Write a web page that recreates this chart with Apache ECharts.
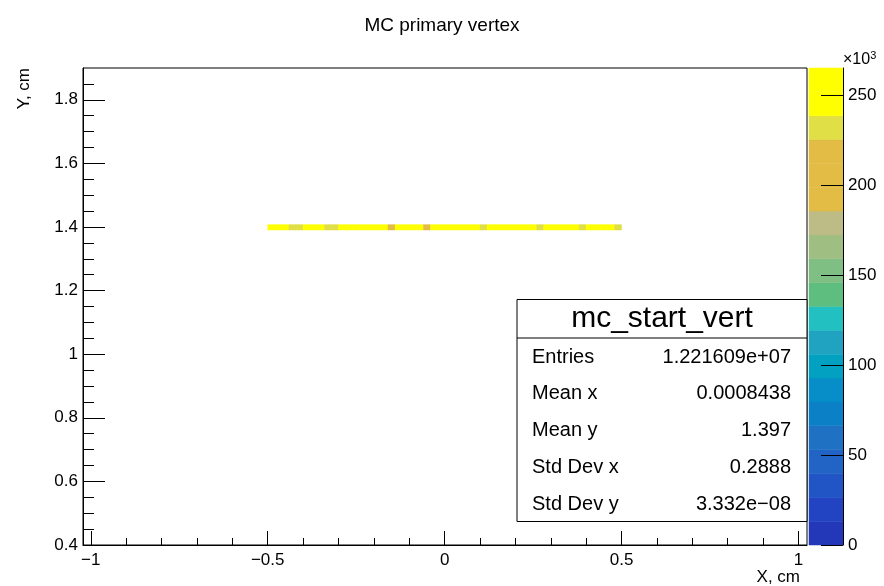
<!DOCTYPE html>
<html>
<head>
<meta charset="utf-8">
<script src="https://cdn.jsdelivr.net/npm/echarts@6/dist/echarts.min.js"></script>
<style>
  html, body { margin: 0; padding: 0; background: #ffffff; }
  #chart { width: 884px; height: 586px; }
</style>
</head>
<body>
<div id="chart"></div>
<script>
// ---- histogram binning (cm) ----
const xRange = [-1.022, 1.024];
const yRange = [0.4, 1.9];
const xBinWidth = 0.02;
const yBinHeight = 0.0167;
const yBinCenter = 1.399;

// x bin centres of the filled row
const xBinCenters = [
  -0.49, -0.47, -0.45, -0.43, -0.41, -0.39, -0.37, -0.35, -0.33, -0.31,
  -0.29, -0.27, -0.25, -0.23, -0.21, -0.19, -0.17, -0.15, -0.13, -0.11,
  -0.09, -0.07, -0.05, -0.03, -0.01,  0.01,  0.03,  0.05,  0.07,  0.09,
   0.11,  0.13,  0.15,  0.17,  0.19,  0.21,  0.23,  0.25,  0.27,  0.29,
   0.31,  0.33,  0.35,  0.37,  0.39,  0.41,  0.43,  0.45,  0.47,  0.49
];

// entries per bin, in thousands
const binCounts = [
  248.9, 250.3, 247.6, 232.1, 230.8, 249.5, 251.2, 246.7, 229.9, 233.4,
  250.8, 248.1, 252.6, 249.0, 247.3, 251.9, 248.5, 211.6, 250.2, 253.1,
  249.7, 247.9, 208.4, 251.4, 250.0, 248.8, 252.3, 249.6, 265.2, 250.7,
  231.5, 248.2, 251.6, 249.3, 247.5, 250.9, 252.0, 248.7, 233.0, 250.4,
  249.2, 251.3, 247.8, 250.6, 230.2, 249.9, 252.4, 248.3, 250.1, 234.6
];

// axis ticks
const xMajorTicks = [-1, -0.5, 0, 0.5, 1];
const xMinorTicks = [-0.9, -0.8, -0.7, -0.6, -0.4, -0.3, -0.2, -0.1, 0.1, 0.2, 0.3, 0.4, 0.6, 0.7, 0.8, 0.9];
const yMajorTicks = [0.4, 0.6, 0.8, 1.0, 1.2, 1.4, 1.6, 1.8];
const yMinorTicks = [0.45, 0.5, 0.55, 0.65, 0.7, 0.75, 0.85, 0.9, 0.95, 1.05, 1.1, 1.15, 1.25, 1.3, 1.35,
                     1.45, 1.5, 1.55, 1.65, 1.7, 1.75, 1.85];
const zTicks = [0, 50, 100, 150, 200, 250];

// statistics box
const statsTitle = 'mc_start_vert';
const statsLabels = ['Entries', 'Mean x', 'Mean y', 'Std Dev x', 'Std Dev y'];
const statsValues = ['1.221609e+07', '0.0008438', '1.397', '0.2888', '3.332e\u221208'];

// 20 colour contours, lowest to highest
const contourColors = [
  '#2337b9', '#2244c3', '#2155c6', '#2164c5', '#1f72c3', '#0b80c6', '#078dc7', '#02a0c1', '#20a2c1', '#22c0c0',
  '#5ebe80', '#7fbf83', '#9ebf81', '#bdbb86', '#e2bc45', '#e2bc45', '#e2bc45', '#e0df45', '#ffff00', '#ffff00'
];

const FONT = 'Liberation Sans';
const nContours = contourColors.length;
const zMax = Math.max(...binCounts);
const zStep = zMax / nContours;

const cells = xBinCenters.map((x, i) => [x, yBinCenter, binCounts[i]]);
const bands = contourColors.map((c, i) => [i * zStep, (i + 1) * zStep, i]);

const pieces = contourColors.map((c, i) => ({
  gte: i * zStep,
  lt: i === nContours - 1 ? Infinity : (i + 1) * zStep,
  color: c
}));

const fmt = v => String(+v.toFixed(2)).replace('-', '\u2212');

const chart = echarts.init(document.getElementById('chart'), null, { renderer: 'canvas' });

const tickLine = { color: '#000', width: 1 };

chart.setOption({
  animation: false,
  backgroundColor: '#ffffff',
  textStyle: { fontFamily: FONT },
  title: {
    text: 'MC primary vertex',
    left: 'center',
    top: 11,
    textStyle: { fontFamily: FONT, fontSize: 19, fontWeight: 'normal', color: '#000' }
  },
  grid: [
    { left: 83, top: 68, width: 724, height: 477, show: true, borderColor: '#000', borderWidth: 1, backgroundColor: '#fff' },
    { left: 809, top: 68, width: 34, height: 477, show: false }
  ],
  xAxis: [
    {
      gridIndex: 0, type: 'value', min: xRange[0], max: xRange[1],
      axisLine: { show: true, onZero: false, lineStyle: tickLine },
      splitLine: { show: false },
      axisTick: { show: true, inside: true, length: 14, lineStyle: tickLine, customValues: xMajorTicks },
      axisLabel: { show: true, customValues: xMajorTicks, formatter: fmt, margin: 7,
                   fontFamily: FONT, fontSize: 17, color: '#000' },
      name: 'X, cm', nameLocation: 'end', nameGap: 0,
      nameTextStyle: { fontFamily: FONT, fontSize: 17, color: '#000', align: 'right', verticalAlign: 'top', padding: [24, 7, 0, 0] }
    },
    {
      gridIndex: 0, type: 'value', min: xRange[0], max: xRange[1], position: 'bottom',
      axisLine: { show: false, onZero: false }, splitLine: { show: false }, axisLabel: { show: false },
      axisTick: { show: true, inside: true, length: 7, lineStyle: tickLine, customValues: xMinorTicks }
    },
    {
      gridIndex: 1, type: 'value', min: 0, max: 1, show: false,
      axisLine: { onZero: false }
    }
  ],
  yAxis: [
    {
      gridIndex: 0, type: 'value', min: yRange[0], max: yRange[1],
      axisLine: { show: true, onZero: false, lineStyle: tickLine },
      splitLine: { show: false },
      axisTick: { show: true, inside: true, length: 22, lineStyle: tickLine, customValues: yMajorTicks },
      axisLabel: { show: true, customValues: yMajorTicks, formatter: fmt, margin: 5,
                   fontFamily: FONT, fontSize: 17, color: '#000' }
    },
    {
      gridIndex: 0, type: 'value', min: yRange[0], max: yRange[1], position: 'left',
      axisLine: { show: false, onZero: false }, splitLine: { show: false }, axisLabel: { show: false },
      axisTick: { show: true, inside: true, length: 11, lineStyle: tickLine, customValues: yMinorTicks }
    },
    {
      gridIndex: 1, type: 'value', min: 0, max: zMax, position: 'right', z: 10,
      axisLine: { show: true, onZero: false, lineStyle: tickLine },
      splitLine: { show: false },
      axisTick: { show: true, inside: true, length: 22, lineStyle: tickLine, customValues: zTicks },
      axisLabel: { show: true, customValues: zTicks, margin: 5, fontFamily: FONT, fontSize: 17, color: '#000' }
    }
  ],
  visualMap: {
    type: 'piecewise', show: false, seriesIndex: 0, dimension: 2, pieces: pieces
  },
  series: [
    {
      type: 'custom',
      xAxisIndex: 0, yAxisIndex: 0,
      dimensions: ['x', 'y', 'z'],
      encode: { x: 0, y: 1 },
      data: cells,
      renderItem: (params, api) => {
        const x = api.value(0), y = api.value(1);
        const p0 = api.coord([x - xBinWidth / 2, y + yBinHeight / 2]);
        const p1 = api.coord([x + xBinWidth / 2, y - yBinHeight / 2]);
        const col = api.visual('color');
        return {
          type: 'rect',
          shape: { x: p0[0], y: p0[1], width: p1[0] - p0[0], height: p1[1] - p0[1] },
          style: { fill: col, stroke: col, lineWidth: 0.5 }
        };
      }
    },
    {
      type: 'custom',
      xAxisIndex: 2, yAxisIndex: 2,
      dimensions: ['lo', 'hi', 'k'],
      encode: { y: [0, 1] },
      data: bands,
      silent: true,
      z: 1,
      renderItem: (params, api) => {
        const lo = api.value(0), hi = api.value(1), k = api.value(2);
        const p0 = api.coord([0, hi]);
        const p1 = api.coord([1, lo]);
        return {
          type: 'rect',
          shape: { x: p0[0], y: p0[1], width: p1[0] - p0[0], height: p1[1] - p0[1] },
          style: { fill: contourColors[k], stroke: contourColors[k], lineWidth: 0.5 }
        };
      }
    }
  ],
  graphic: [
    {
      type: 'text', left: 843, top: 50, z: 10,
      style: {
        text: '\u00d710{s|3}', fontFamily: FONT, fontSize: 16, fill: '#000',
        rich: { s: { fontFamily: FONT, fontSize: 11, verticalAlign: 'top', padding: [0, 0, 8, 0] } }
      }
    },
    {
      type: 'text', x: 24, y: 68, rotation: Math.PI / 2, z: 10,
      style: { text: 'Y, cm', fontFamily: FONT, fontSize: 17, fill: '#000', align: 'right', verticalAlign: 'middle' }
    },
    {
      type: 'group', z: 20,
      children: [
        { type: 'rect', shape: { x: 517, y: 299.5, width: 290, height: 222 },
          style: { fill: '#fff', stroke: '#000', lineWidth: 1 } },
        { type: 'line', shape: { x1: 517, y1: 338, x2: 807, y2: 338 }, style: { stroke: '#000', lineWidth: 1 } },
        { type: 'text', x: 662, y: 319,
          style: { text: statsTitle, fontFamily: FONT, fontSize: 30, fill: '#000', align: 'center', verticalAlign: 'middle' } }
      ].concat(statsLabels.map((t, i) => ({
        type: 'text', x: 532, y: 357 + i * 36.9,
        style: { text: t, fontFamily: FONT, fontSize: 20, fill: '#000', align: 'left', verticalAlign: 'middle' }
      }))).concat(statsValues.map((t, i) => ({
        type: 'text', x: 791, y: 357 + i * 36.9,
        style: { text: t, fontFamily: FONT, fontSize: 20, fill: '#000', align: 'right', verticalAlign: 'middle' }
      })))
    }
  ]
});
</script>
</body>
</html>
